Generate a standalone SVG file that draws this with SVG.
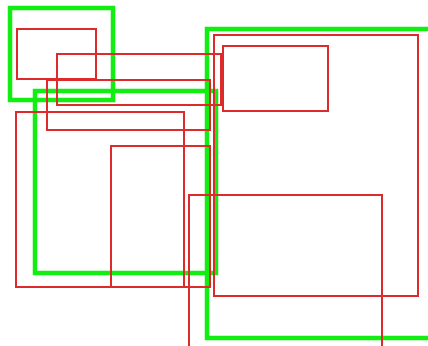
<svg xmlns="http://www.w3.org/2000/svg" width="428" height="346" viewBox="0 0 428 346">
<style>
.g{fill:none;stroke:#11ee11;stroke-width:4.5}
.r{fill:none;stroke:#dd2a2a;stroke-width:2}
</style>
<rect width="428" height="346" fill="#ffffff"/>
<g id="green1"><rect class="g" x="10" y="8" width="103" height="92"/></g>
<g id="green2"><rect class="g" x="35" y="91" width="181" height="182"/></g>
<g id="green3"><rect class="g" x="207" y="29" width="230" height="309"/></g>
<g id="redA"><rect class="r" x="17" y="29" width="79" height="50"/></g>
<g id="redB"><rect class="r" x="57" y="54" width="164" height="51"/></g>
<g id="redC"><rect class="r" x="47" y="80" width="163" height="50"/></g>
<g id="redD"><rect class="r" x="16" y="112" width="168" height="175"/></g>
<g id="redE"><rect class="r" x="111" y="146" width="99" height="141"/></g>
<g id="redF"><rect class="r" x="189" y="195" width="193" height="170"/></g>
<g id="redH"><rect class="r" x="214" y="35" width="204" height="261"/></g>
<g id="redI"><rect class="r" x="223" y="46" width="105" height="65"/></g>
</svg>
